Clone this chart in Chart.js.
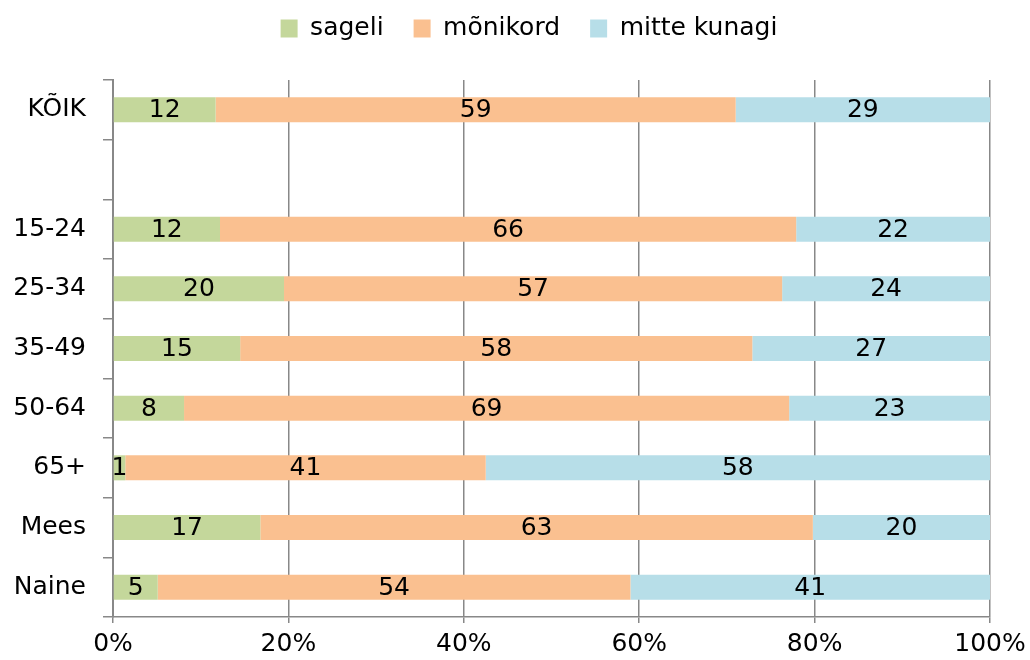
<!DOCTYPE html>
<html lang="et">
<head>
<meta charset="utf-8">
<title>sageli / mõnikord / mitte kunagi</title>
<script src="https://cdn.jsdelivr.net/npm/chart.js@4/dist/chart.umd.min.js"></script>
<style>
    html, body { margin: 0; padding: 0; background: #fff; }
    #wrap { width: 1030px; height: 660px; }
</style>
</head>
<body>
<div id="wrap"><canvas id="grafik"></canvas></div>
<script>
// Andmed (protsendid, loetud jooniselt)
const kategooriad = ['KÕIK', '', '15-24', '25-34', '35-49', '50-64', '65+', 'Mees', 'Naine'];
const sageli      = [11.7, null, 12.2, 19.5, 14.5,  8.1,  1.4, 16.8,  5.1];
const monikord    = [59.3, null, 65.7, 56.8, 58.4, 69.0, 41.1, 63.0, 53.9];
const mitteKunagi = [29.0, null, 22.1, 23.7, 27.1, 22.9, 57.5, 20.2, 41.0];
const xTicks = [0, 20, 40, 60, 80, 100];

const FONT = 'DejaVu Sans';
const GRID = '#888888';

Chart.defaults.font.family = FONT;
Chart.defaults.font.size = 25;
Chart.defaults.color = '#000';

// väärtused ribade keskele
const vaartusSildid = {
    id: 'vaartusSildid',
    afterDatasetsDraw(chart) {
        const ctx = chart.ctx;
        ctx.save();
        ctx.font = '25px "' + FONT + '"';
        ctx.fillStyle = '#000';
        ctx.textAlign = 'center';
        ctx.textBaseline = 'middle';
        chart.data.datasets.forEach((ds, i) => {
            chart.getDatasetMeta(i).data.forEach((bar, j) => {
                const v = ds.data[j];
                if (v == null) return;
                const p = bar.getProps(['x', 'y', 'base'], true);
                ctx.fillText(String(Math.round(v)), (p.x + p.base) / 2, p.y + 1);
            });
        });
        ctx.restore();
    }
};

// legend: rohkem ruumi allapoole ja nihe paremale (keskel üle joonise)
const legendiVahe = {
    id: 'legendiVahe',
    beforeLayout(chart) {
        const legend = chart.legend;
        if (!legend || legend._vahePatched) return;
        const origFit = legend.fit;
        legend.fit = function () {
            origFit.call(this);
            this.height += 29;
        };
        legend._vahePatched = true;
    },
    afterLayout(chart) {
        if (chart.legend) chart.legend.left = 68;
    }
};

new Chart(document.getElementById('grafik'), {
    type: 'bar',
    data: {
        labels: kategooriad,
        datasets: [
            { label: 'sageli', data: sageli, backgroundColor: '#c4d79b' },
            { label: 'mõnikord', data: monikord, backgroundColor: '#fac090' },
            { label: 'mitte kunagi', data: mitteKunagi, backgroundColor: '#b7dee8' }
        ]
    },
    options: {
        indexAxis: 'y',
        responsive: true,
        maintainAspectRatio: false,
        animation: false,
        barPercentage: 0.42,
        categoryPercentage: 1,
        layout: { padding: { left: 0, right: 40, top: -14, bottom: 0 } },
        plugins: {
            legend: {
                position: 'top',
                labels: {
                    boxWidth: 17,
                    boxHeight: 18,
                    padding: 30,
                    font: { size: 25 }
                }
            },
            tooltip: { enabled: false }
        },
        scales: {
            x: {
                stacked: true,
                min: 0,
                max: 100,
                afterBuildTicks(scale) {
                    scale.ticks = xTicks.map(v => ({ value: v }));
                },
                afterFit(scale) {
                    scale.height = 43;
                    scale.paddingRight = 0;
                },
                ticks: {
                    padding: 6,
                    font: { size: 25 },
                    callback: v => v + '%'
                },
                grid: { color: GRID, lineWidth: 1.5, tickLength: 6 },
                border: { color: GRID, width: 1.5 }
            },
            y: {
                stacked: true,
                afterFit(scale) { scale.width = 113; },
                ticks: { padding: 17, font: { size: 25 } },
                grid: {
                    drawOnChartArea: false,
                    offset: true,
                    color: GRID,
                    lineWidth: 1.5,
                    tickLength: 10
                },
                border: { color: GRID, width: 2 }
            }
        }
    },
    plugins: [vaartusSildid, legendiVahe]
});
</script>
</body>
</html>
